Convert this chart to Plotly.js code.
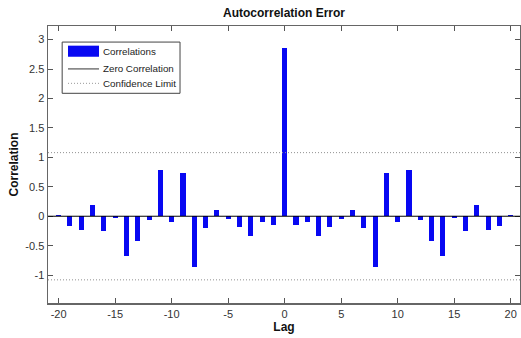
<!DOCTYPE html>
<html>
<head>
<meta charset="utf-8">
<script src="https://cdn.plot.ly/plotly-3.0.1.min.js"></script>
<style>html,body{margin:0;padding:0;background:#fff;}#chart{width:521px;height:338px;}</style>
</head>
<body>
<div id="chart"></div>
<script>
// Lags and autocorrelation values
var lags = [-20,-19,-18,-17,-16,-15,-14,-13,-12,-11,-10,-9,-8,-7,-6,-5,-4,-3,-2,-1,0,
            1,2,3,4,5,6,7,8,9,10,11,12,13,14,15,16,17,18,19,20];
var correlations = [0.02,-0.17,-0.23,0.19,-0.245,-0.03,-0.67,-0.42,-0.07,0.79,-0.10,0.735,-0.87,-0.205,0.10,-0.04,-0.19,-0.33,-0.10,-0.155,2.85,
                    -0.155,-0.10,-0.33,-0.19,-0.04,0.10,-0.205,-0.87,0.735,-0.10,0.79,-0.07,-0.42,-0.67,-0.03,-0.245,0.19,-0.23,-0.17,0.02];
var zeroCorrelation = 0;
var confidenceLimit = 1.08;
var xTickVals = [-20,-15,-10,-5,0,5,10,15,20];
var xTickText = ["-20","-15","-10","-5","0","5","10","15","20"];
var yTickVals = [-1,-0.5,0,0.5,1,1.5,2,2.5,3];
var yTickText = ["-1","-0.5","0","0.5","1","1.5","2","2.5","3"];
var legendLabels = ["Correlations","Zero Correlation","Confidence Limit"];

var FONT = "Liberation Sans, Arial, sans-serif";
var BLUE = "#0808f2";

var traces = [{
  type: "bar",
  x: lags,
  y: correlations,
  width: 0.45,
  marker: {color: BLUE, line: {width: 0}},
  showlegend: false,
  hoverinfo: "x+y"
}];

var shapes = [
  // zero correlation line
  {type:"line", xref:"x domain", yref:"y", x0:0, x1:1, y0:zeroCorrelation, y1:zeroCorrelation,
   line:{color:"#000", width:1}, layer:"above"},
  // confidence limits
  {type:"line", xref:"x domain", yref:"y", x0:0, x1:1, y0:confidenceLimit, y1:confidenceLimit,
   line:{color:"#909090", width:1, dash:"1px,2px"}},
  {type:"line", xref:"x domain", yref:"y", x0:0, x1:1, y0:-confidenceLimit, y1:-confidenceLimit,
   line:{color:"#909090", width:1, dash:"1px,2px"}},
  // legend box
  {type:"rect", xref:"paper", yref:"paper", x0:0.030, x1:0.2797, y0:0.757, y1:0.942,
   line:{color:"#444", width:1}, fillcolor:"#fff", layer:"above"},
  {type:"rect", xref:"paper", yref:"paper", x0:0.0424, x1:0.1081, y0:0.889, y1:0.929,
   line:{width:0}, fillcolor:BLUE, layer:"above"},
  {type:"line", xref:"paper", yref:"paper", x0:0.0424, x1:0.1081, y0:0.845, y1:0.845,
   line:{color:"#333", width:1}, layer:"above"},
  {type:"line", xref:"paper", yref:"paper", x0:0.0424, x1:0.1081, y0:0.793, y1:0.793,
   line:{color:"#999", width:1, dash:"1px,2px"}, layer:"above"}
];

var legendY = [0.909, 0.845, 0.793];
var annotations = legendLabels.map(function(t, i){
  return {xref:"paper", yref:"paper", x:0.1125, y:legendY[i], xanchor:"left", yanchor:"middle",
          text:t, showarrow:false, font:{family:FONT, size:9.8, color:"#222"}};
});

var layout = {
  width: 521, height: 338,
  margin: {l:48, r:1, t:26, b:35},
  paper_bgcolor: "#fff", plot_bgcolor: "#fff",
  title: {text:"<b>Autocorrelation Error</b>", font:{family:FONT, size:12, color:"#111"},
          xref:"paper", x:0.5, xanchor:"center", yref:"container", y:1-13/338, yanchor:"middle"},
  xaxis: {
    range:[-20.94, 20.82], tickvals:xTickVals, ticktext:xTickText,
    ticks:"inside", ticklen:5, tickcolor:"#555", tickwidth:1,
    showline:true, linecolor:"#666", linewidth:1.5, mirror:"ticks",
    showgrid:false, zeroline:false,
    tickfont:{family:FONT, size:11, color:"#333"},
    title:{text:"<b>Lag</b>", font:{family:FONT, size:12, color:"#111"}, standoff:1}
  },
  yaxis: {
    range:[-1.473, 3.23], tickvals:yTickVals, ticktext:yTickText,
    ticks:"inside", ticklen:5, tickcolor:"#555", tickwidth:1,
    showline:true, linecolor:"#666", linewidth:1.5, mirror:"ticks",
    showgrid:false, zeroline:false,
    tickfont:{family:FONT, size:11, color:"#333"},
    title:{text:"<b>Correlation</b>", font:{family:FONT, size:12, color:"#111"}, standoff:4}
  },
  shapes: shapes,
  annotations: annotations,
  bargap: 0,
  showlegend: false
};

Plotly.newPlot("chart", traces, layout, {displayModeBar:false, staticPlot:true});
</script>
</body>
</html>
